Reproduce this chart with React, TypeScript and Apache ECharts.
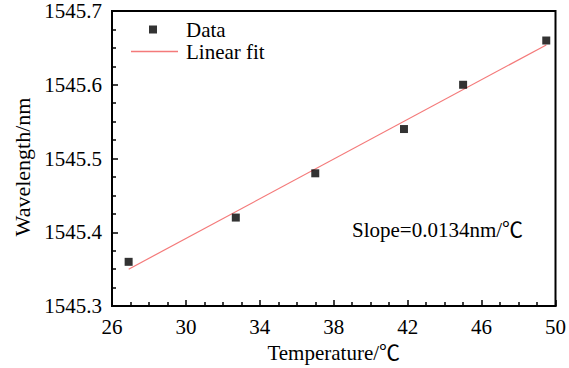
import React, { useEffect, useRef } from "react";
import * as echarts from "echarts";

const temperature = [26.9, 32.7, 37.0, 41.8, 45.0, 49.5];
const wavelength = [1545.36, 1545.42, 1545.48, 1545.54, 1545.6, 1545.66];
const fitTemperature = [26.9, 49.5];
const fitWavelength = [1545.35, 1545.654];
const slopeText = "Slope=0.0134nm/℃";
const xTitle = "Temperature/℃";
const yTitle = "Wavelength/nm";

const FONT = "'Liberation Serif', 'Noto Sans CJK SC', serif";
const FIT_COLOR = "#f47a7a";

export default function App() {
  const ref = useRef<HTMLDivElement>(null);
  useEffect(() => {
    if (!ref.current) return;
    const chart = echarts.init(ref.current, undefined, { renderer: "svg" });
    const axisCommon = {
      axisLine: { show: true, lineStyle: { color: "#000", width: 2 } },
      axisTick: { show: true, inside: true, length: 6, lineStyle: { color: "#000", width: 1.5 } },
      minorTick: { show: true, splitNumber: 4, length: 4, lineStyle: { color: "#000", width: 1.5 } },
      splitLine: { show: false },
      nameTextStyle: { color: "#000", fontFamily: FONT, fontSize: 21 },
    };
    const legendText = { color: "#000", fontFamily: FONT, fontSize: 21 };
    chart.setOption({
      animation: false,
      backgroundColor: "#fff",
      textStyle: { fontFamily: FONT, color: "#000" },
      grid: {
        left: 112,
        right: 7,
        top: 11,
        bottom: 58,
        show: true,
        borderColor: "#000",
        borderWidth: 2,
      },
      xAxis: {
        type: "value",
        min: 26,
        max: 50,
        interval: 4,
        name: xTitle,
        nameLocation: "middle",
        nameGap: 35,
        ...axisCommon,
        axisLabel: { color: "#000", fontFamily: FONT, fontSize: 21, margin: 10 },
      },
      yAxis: {
        type: "value",
        min: 1545.3,
        max: 1545.7,
        interval: 0.1,
        ...axisCommon,
        axisLabel: {
          color: "#000",
          fontFamily: FONT,
          fontSize: 21,
          margin: 10,
          formatter: (v: number) => v.toFixed(1),
        },
      },
      legend: [
        {
          orient: "vertical",
          left: 149,
          top: 19,
          padding: 0,
          itemWidth: 8,
          itemHeight: 8,
          icon: "rect",
          textStyle: { ...legendText, padding: [0, 0, 0, 24] },
          data: [{ name: "Data" }],
        },
        {
          orient: "vertical",
          left: 131,
          top: 41,
          padding: 0,
          itemWidth: 47,
          itemHeight: 1.3,
          icon: "rect",
          textStyle: { ...legendText, padding: [0, 0, 0, 3] },
          data: [{ name: "Linear fit" }],
        },
      ],
      series: [
        {
          name: "Data",
          type: "scatter",
          symbol: "rect",
          symbolSize: 8,
          itemStyle: { color: "#000" },
          data: temperature.map((t, i) => [t, wavelength[i]]),
          z: 3,
        },
        {
          name: "Linear fit",
          type: "line",
          showSymbol: false,
          symbol: "none",
          lineStyle: { color: FIT_COLOR, width: 1.2 },
          itemStyle: { color: FIT_COLOR },
          data: fitTemperature.map((t, i) => [t, fitWavelength[i]]),
          z: 2,
        },
      ],
      graphic: [
        {
          type: "text",
          left: 352,
          top: 219,
          style: {
            text: slopeText,
            fill: "#000",
            fontFamily: FONT,
            fontSize: 21,
          },
        },
        {
          type: "text",
          x: 22,
          y: 167,
          rotation: Math.PI / 2,
          style: {
            text: yTitle,
            fill: "#000",
            fontFamily: FONT,
            fontSize: 22,
            align: "center",
            verticalAlign: "middle",
          },
        },
      ],
    });
    return () => chart.dispose();
  }, []);
  return <div ref={ref} style={{ width: 569, height: 368, position: "absolute", left: 0, top: 0 }} />;
}
